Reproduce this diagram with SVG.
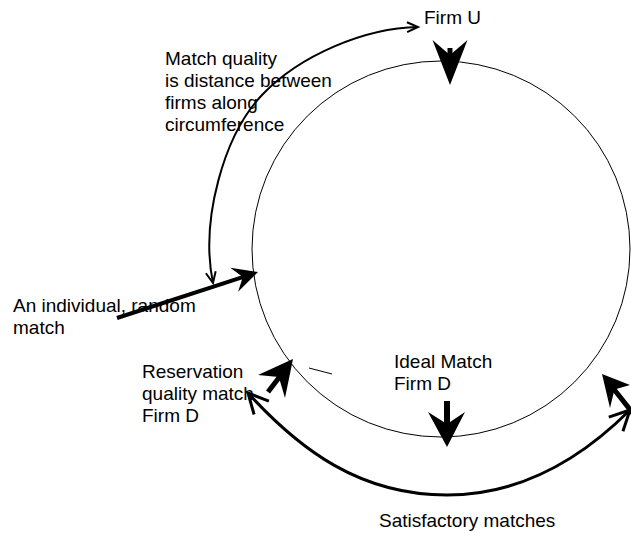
<svg xmlns="http://www.w3.org/2000/svg" width="631" height="533" viewBox="0 0 631 533">
<style>
text{font-family:"Liberation Sans",Arial,sans-serif;font-size:19px;fill:#000}
.thin{fill:none;stroke:#000;stroke-width:1}
.curve{fill:none;stroke:#000;stroke-width:2}
.curveB{fill:none;stroke:#000;stroke-width:3}
.shaft{stroke:#000;stroke-linecap:butt}
.head{fill:#000;stroke:none}
</style>
<defs>
<marker id="openS" markerUnits="userSpaceOnUse" orient="auto-start-reverse" overflow="visible" markerWidth="1" markerHeight="1">
<path d="M-11,-5 L0,0 L-11,5" fill="none" stroke="#000" stroke-width="2"/>
</marker>
<marker id="openB" markerUnits="userSpaceOnUse" orient="auto-start-reverse" overflow="visible" markerWidth="1" markerHeight="1">
<path d="M-20,-10 L0,0 L-20,10" fill="none" stroke="#000" stroke-width="3"/>
</marker>
</defs>
<rect width="631" height="533" fill="#fff"/>
<g id="circle">
<ellipse cx="441" cy="249" rx="189" ry="188" class="thin"/>
</g>
<g id="firm-u">
<text x="424" y="24">Firm U</text>
</g>
<g id="match-quality-label">
<text x="165" y="65">Match quality</text>
<text x="165" y="87">is distance between</text>
<text x="165" y="109">firms along</text>
<text x="165" y="131">circumference</text>
</g>
<g id="random-match">
<text x="13" y="312">An individual, random</text>
<text x="13" y="334">match</text>
</g>
<g id="reservation">
<text x="142" y="378">Reservation</text>
<text x="142" y="400">quality match</text>
<text x="142" y="422">Firm D</text>
</g>
<g id="ideal-match">
<text x="394" y="368">Ideal Match</text>
<text x="394" y="390">Firm D</text>
</g>
<g id="satisfactory">
<text x="379" y="527">Satisfactory matches</text>
</g>
<g id="connectors">
<path class="curve" d="M418,27 C365,28 300,55 262,95 C224,135 200,220 213,283" marker-start="url(#openS)" marker-end="url(#openS)"/>
<path class="curveB" d="M248,393 C300,450 360,495 447,495 C530,495 590,450 630,410" marker-start="url(#openB)" marker-end="url(#openB)"/>
<line x1="309" y1="368" x2="332" y2="374" class="thin"/>
<line x1="450" y1="48" x2="450" y2="60" class="shaft" stroke-width="5"/>
<polygon class="head" points="450,85 432.5,40 450,55 467.5,40"/>
<line x1="447" y1="401" x2="447" y2="426" class="shaft" stroke-width="6"/>
<polygon class="head" points="447,447 428,412 447,424 465,412"/>
<line x1="117" y1="318" x2="245" y2="276.3" class="shaft" stroke-width="4"/>
<polygon class="head" points="258,272 230.3,267.8 242.8,277 238.1,291.7"/>
<line x1="268" y1="392" x2="281" y2="375" class="shaft" stroke-width="5"/>
<polygon class="head" points="293,359 258,375 278.8,377.1 285,398"/>
<line x1="635" y1="416" x2="613" y2="388" class="shaft" stroke-width="5"/>
<polygon class="head" points="602,374 630,385 614.5,389.6 610,408"/>
</g>
</svg>
